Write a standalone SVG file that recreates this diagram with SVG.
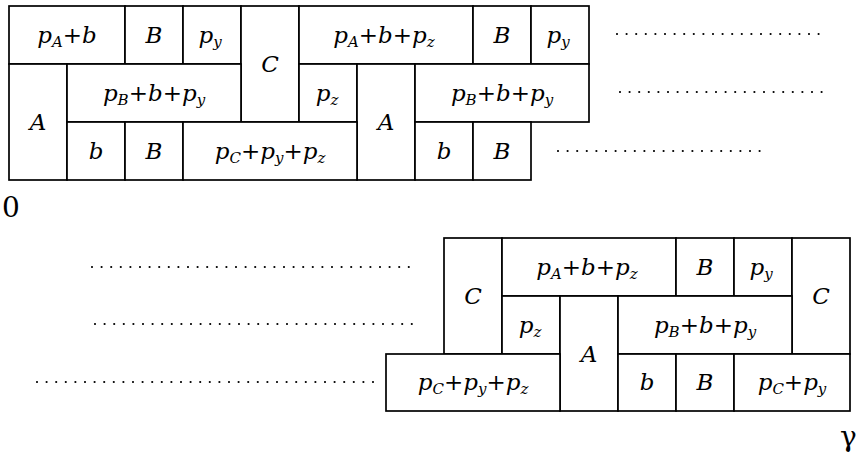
<svg xmlns="http://www.w3.org/2000/svg" width="860" height="455" viewBox="0 0 860 455">
<style>
.cell{fill:#fff;stroke:#000;stroke-width:1.7}
.t{font-family:'DejaVu Serif','Liberation Serif',serif;font-style:italic;font-size:23px;text-anchor:middle;fill:#000}
.s{font-size:15px}
.dots{fill:none;stroke:#000;stroke-width:2.2;stroke-linecap:round;stroke-dasharray:0 9.6}
.lab{font-family:'DejaVu Serif','Liberation Serif',serif;font-size:28px;fill:#000}
</style>
<rect width="860" height="455" fill="#fff"/>
<g id="top">
<g id="t-pAb"><rect class="cell" x="9" y="6" width="116" height="58"/><text class="t" x="67" y="43">p<tspan class="s" dy="4">A</tspan><tspan dy="-4">+b</tspan></text></g>
<g id="t-B1"><rect class="cell" x="125" y="6" width="58" height="58"/><text class="t" x="154" y="43">B</text></g>
<g id="t-py1"><rect class="cell" x="183" y="6" width="58" height="58"/><text class="t" x="210" y="43">p<tspan class="s" dy="4">y</tspan></text></g>
<g id="t-C"><rect class="cell" x="241" y="6" width="58" height="116"/><text class="t" x="270" y="72">C</text></g>
<g id="t-pAbpz"><rect class="cell" x="299" y="6" width="174" height="58"/><text class="t" x="384" y="43">p<tspan class="s" dy="4">A</tspan><tspan dy="-4">+b+p</tspan><tspan class="s" dy="4">z</tspan></text></g>
<g id="t-B2"><rect class="cell" x="473" y="6" width="58" height="58"/><text class="t" x="502" y="43">B</text></g>
<g id="t-py2"><rect class="cell" x="531" y="6" width="58" height="58"/><text class="t" x="558" y="43">p<tspan class="s" dy="4">y</tspan></text></g>
<g id="t-A1"><rect class="cell" x="9" y="64" width="58" height="116"/><text class="t" x="38" y="130">A</text></g>
<g id="t-pBbpy1"><rect class="cell" x="67" y="64" width="174" height="58"/><text class="t" x="154" y="101">p<tspan class="s" dy="4">B</tspan><tspan dy="-4">+b+p</tspan><tspan class="s" dy="4">y</tspan></text></g>
<g id="t-pz"><rect class="cell" x="299" y="64" width="58" height="58"/><text class="t" x="327" y="101">p<tspan class="s" dy="4">z</tspan></text></g>
<g id="t-A2"><rect class="cell" x="357" y="64" width="58" height="116"/><text class="t" x="386" y="130">A</text></g>
<g id="t-pBbpy2"><rect class="cell" x="415" y="64" width="174" height="58"/><text class="t" x="502" y="101">p<tspan class="s" dy="4">B</tspan><tspan dy="-4">+b+p</tspan><tspan class="s" dy="4">y</tspan></text></g>
<g id="t-b1"><rect class="cell" x="67" y="122" width="58" height="58"/><text class="t" x="96" y="159">b</text></g>
<g id="t-B3"><rect class="cell" x="125" y="122" width="58" height="58"/><text class="t" x="154" y="159">B</text></g>
<g id="t-pCpypz"><rect class="cell" x="183" y="122" width="174" height="58"/><text class="t" x="270" y="159">p<tspan class="s" dy="4">C</tspan><tspan dy="-4">+p</tspan><tspan class="s" dy="4">y</tspan><tspan dy="-4">+p</tspan><tspan class="s" dy="4">z</tspan></text></g>
<g id="t-b2"><rect class="cell" x="415" y="122" width="58" height="58"/><text class="t" x="444" y="159">b</text></g>
<g id="t-B4"><rect class="cell" x="473" y="122" width="58" height="58"/><text class="t" x="502" y="159">B</text></g>
</g>
<g id="bottom">
<g id="b-C1"><rect class="cell" x="444" y="238" width="58" height="116"/><text class="t" x="473" y="304">C</text></g>
<g id="b-pAbpz"><rect class="cell" x="502" y="238" width="174" height="58"/><text class="t" x="587" y="275">p<tspan class="s" dy="4">A</tspan><tspan dy="-4">+b+p</tspan><tspan class="s" dy="4">z</tspan></text></g>
<g id="b-B1"><rect class="cell" x="676" y="238" width="58" height="58"/><text class="t" x="705" y="275">B</text></g>
<g id="b-py"><rect class="cell" x="734" y="238" width="58" height="58"/><text class="t" x="761" y="275">p<tspan class="s" dy="4">y</tspan></text></g>
<g id="b-C2"><rect class="cell" x="792" y="238" width="58" height="116"/><text class="t" x="821" y="304">C</text></g>
<g id="b-pz"><rect class="cell" x="502" y="296" width="58" height="58"/><text class="t" x="530" y="333">p<tspan class="s" dy="4">z</tspan></text></g>
<g id="b-A"><rect class="cell" x="560" y="296" width="58" height="115"/><text class="t" x="589" y="362">A</text></g>
<g id="b-pBbpy"><rect class="cell" x="618" y="296" width="174" height="58"/><text class="t" x="705" y="333">p<tspan class="s" dy="4">B</tspan><tspan dy="-4">+b+p</tspan><tspan class="s" dy="4">y</tspan></text></g>
<g id="b-pCpypz"><rect class="cell" x="386" y="354" width="174" height="57"/><text class="t" x="473" y="390">p<tspan class="s" dy="4">C</tspan><tspan dy="-4">+p</tspan><tspan class="s" dy="4">y</tspan><tspan dy="-4">+p</tspan><tspan class="s" dy="4">z</tspan></text></g>
<g id="b-b"><rect class="cell" x="618" y="354" width="58" height="57"/><text class="t" x="647" y="390">b</text></g>
<g id="b-B2"><rect class="cell" x="676" y="354" width="58" height="57"/><text class="t" x="705" y="390">B</text></g>
<g id="b-pCpy"><rect class="cell" x="734" y="354" width="116" height="57"/><text class="t" x="792" y="390">p<tspan class="s" dy="4">C</tspan><tspan dy="-4">+p</tspan><tspan class="s" dy="4">y</tspan></text></g>
</g>
<g id="connectors">
<path class="dots" d="M617 34H827M620 92H827M558 151H766M92 267H418M95 324H418M37 382H376"/>
</g>
<text class="lab" x="2" y="217">0</text>
<text class="lab" x="840" y="446">γ</text>
</svg>
